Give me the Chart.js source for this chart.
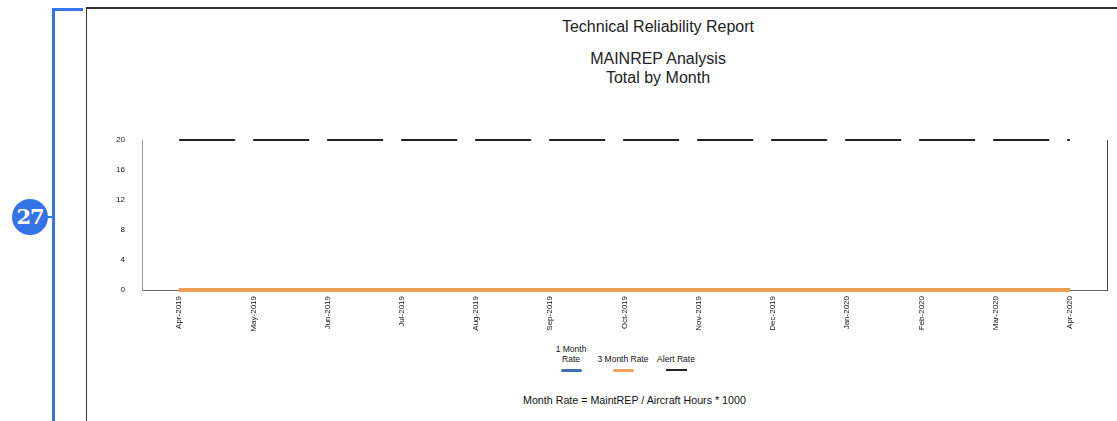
<!DOCTYPE html>
<html>
<head>
<meta charset="utf-8">
<script src="https://cdn.jsdelivr.net/npm/chart.js@4.4.0/dist/chart.umd.min.js"></script>
<style>
  html, body { margin:0; padding:0; background:#fff; }
  body { width:1117px; height:421px; position:relative; overflow:hidden; font-family:"Liberation Sans", Arial, sans-serif; }
  #bracketV { position:absolute; left:52px; top:8px; width:3px; height:420px; background:#3574e8; }
  #bracketH { position:absolute; left:52px; top:8px; width:31px; height:3px; background:#3574e8; }
  #badge { position:absolute; left:12px; top:199px; width:36px; height:36px; border-radius:50%; background:#3574e8; color:#fff;
           font-family:"DejaVu Serif", "Liberation Serif", serif; font-weight:bold; font-size:21px; line-height:36px; text-align:center; letter-spacing:-1px; }
  #conn { position:absolute; left:47px; top:216px; width:6px; height:2px; background:#3574e8; }
  #frame { position:absolute; left:86px; top:7px; width:1040px; height:430px; border-left:1px solid #333; border-top:2px solid #333; }
  .t { position:absolute; left:86px; width:1144px; text-align:center; font-size:16px; color:#222; }
  #legend { position:absolute; top:344px; left:0; width:1117px; height:40px; }
  .li { position:absolute; text-align:center; font-size:8.5px; color:#111; }
  .li .sw { position:absolute; height:3px; width:21px; border-radius:2px; }
  #foot { position:absolute; top:394px; left:523px; font-size:10.7px; color:#111; }
  #c { position:absolute; left:0; top:0; }
</style>
</head>
<body>
<div id="bracketV"></div><div id="bracketH"></div><div id="conn"></div>
<div id="badge">27</div>
<div id="frame"></div>
<div class="t" style="top:18px;">Technical Reliability Report</div>
<div class="t" style="top:50px;">MAINREP Analysis</div>
<div class="t" style="top:69px;">Total by Month</div>
<div id="legend"></div>
<div id="foot">Month Rate = MaintREP / Aircraft Hours * 1000</div>
<canvas id="c" width="1117" height="421"></canvas>
<script>
const months = ["Apr-2019","May-2019","Jun-2019","Jul-2019","Aug-2019","Sep-2019","Oct-2019","Nov-2019","Dec-2019","Jan-2020","Feb-2020","Mar-2020","Apr-2020"];
const oneMonthRate = [0,0,0,0,0,0,0,0,0,0,0,0,0];
const threeMonthRate = [0,0,0,0,0,0,0,0,0,0,0,0,0];
const alertRate = [20,20,20,20,20,20,20,20,20,20,20,20,20];
const yTicks = [0,4,8,12,16,20];

const legendItems = [
  {label:["1 Month","Rate"], color:"#3d6eb4", x:571},
  {label:["3 Month Rate"], color:"#f4a35a", x:623},
  {label:["Alert Rate"], color:"#222222", x:676}
];
const lg = document.getElementById('legend');
legendItems.forEach(it => {
  const d = document.createElement('div');
  d.className = 'li';
  d.style.left = (it.x - 30) + 'px';
  d.style.width = '60px';
  d.style.top = (it.label.length === 2 ? 0 : 10) + 'px';
  d.innerHTML = it.label.join('<br>');
  d.style.lineHeight = '10px';
  const s = document.createElement('div');
  s.className = 'sw';
  s.style.background = it.color;
  s.style.left = '20px';
  s.style.top = (it.label.length === 2 ? 25 : 15) + 'px';
  if (it.color === '#222222') { s.style.height = '2px'; s.style.borderRadius='0'; }
  d.appendChild(s);
  lg.appendChild(d);
});

new Chart(document.getElementById('c'), {
  type: 'line',
  data: {
    labels: months,
    datasets: [
      { label: '1 Month Rate', data: oneMonthRate, borderColor: '#3d6eb4', borderWidth: 4, pointRadius: 0, order: 2, clip: false },
      { label: '3 Month Rate', data: threeMonthRate, borderColor: '#f0a055', borderWidth: 4, pointRadius: 0, order: 1, clip: false },
      { label: 'Alert Rate', data: alertRate, borderColor: '#222', borderWidth: 2, borderDash: [56, 18], pointRadius: 0, order: 3, clip: false }
    ]
  },
  options: {
    responsive: false,
    animation: false,
    layout: { padding: { top: 140, right: 10, left: 0, bottom: 0 } },
    plugins: { legend: { display: false }, tooltip: { enabled: false }, title: { display: false } },
    scales: {
      x: {
        offset: true,
        grid: { display: true, offset: true, drawOnChartArea: false, tickLength: 2, color: '#e4e4e4' },
        border: { display: true, color: '#666', width: 1 },
        ticks: { maxRotation: 90, minRotation: 90, autoSkip: false, color: '#111', font: { size: 8, family: 'Liberation Sans' }, padding: 4 },
        afterFit: s => { s.height = 131; }
      },
      y: {
        min: 0, max: 20,
        afterBuildTicks: s => { s.ticks = yTicks.map(v => ({ value: v })); },
        grid: { display: false },
        border: { display: true, color: '#999', width: 1 },
        ticks: { color: '#111', font: { size: 8, family: 'Liberation Sans' }, padding: 9 },
        afterFit: s => { s.width = 142; }
      },
      y2: {
        position: 'right', min: 0, max: 20,
        grid: { display: false },
        border: { display: true, color: '#444', width: 1 },
        ticks: { display: false },
        afterFit: s => { s.width = 0; }
      }
    }
  }
});
</script>
</body>
</html>
